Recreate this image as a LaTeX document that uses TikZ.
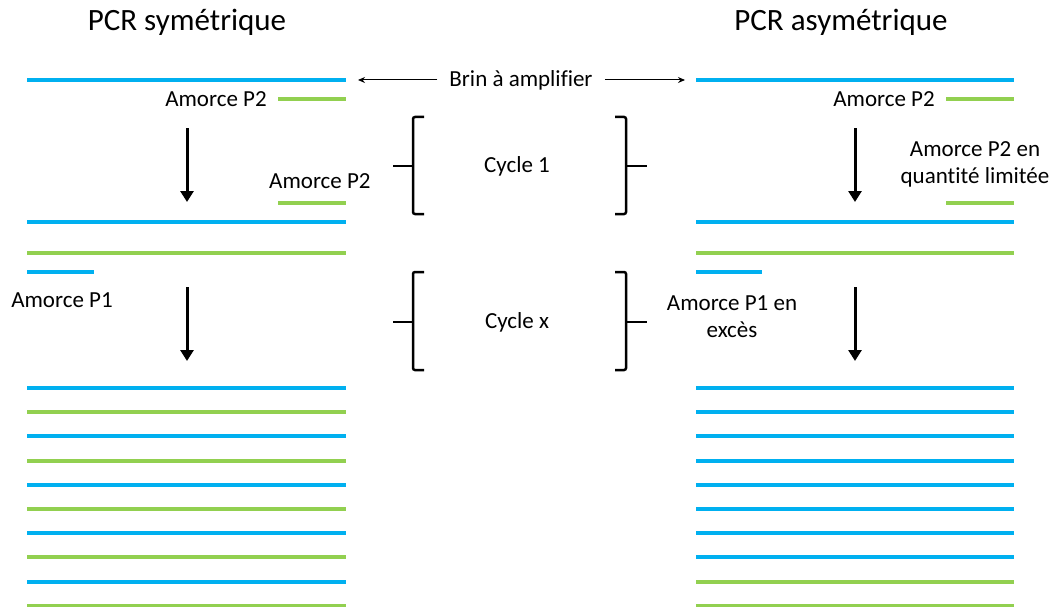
\documentclass[tikz,border=0pt]{standalone}
\usepackage{fontspec}
\setmainfont{Carlito}[Ligatures=NoCommon]
\usetikzlibrary{arrows.meta}
\definecolor{sblue}{HTML}{00B0F0}
\definecolor{sgreen}{HTML}{92D050}
\tikzset{
  bstrand/.style={draw=sblue,line width=4pt},
  gstrand/.style={draw=sgreen,line width=4pt},
  lbl/.style={font=\fontsize{23}{27}\selectfont,inner sep=0pt},
  ttl/.style={font=\fontsize{31}{36}\selectfont,inner sep=0pt},
  bigarrow/.style={line width=3pt,-{Triangle[width=13pt,length=11pt]}},
  thinarrow/.style={line width=1pt,-{Stealth[width=6pt,length=7pt]}},
  brk/.style={line width=2.5pt,rounded corners=2pt},
}
\begin{document}
\begin{tikzpicture}[x=1pt,y=-1pt]
\useasboundingbox (0,0) rectangle (1059,607);
% titles
\node[ttl] (t1) at (187,22) {PCR symétrique};
\node[ttl] (t2) at (841,22) {PCR asymétrique};
% ---------- left ----------
\draw[bstrand] (27,80) -- (346,80);
\draw[gstrand] (278,99) -- (346,99);
\node[lbl] (lp2a) at (216,99) {Amorce P2};
\draw[bigarrow] (187,128) -- (187,202);
\node[lbl,anchor=west] (lp2b) at (269,181) {Amorce P2};
\draw[gstrand] (278,203) -- (346,203);
\draw[bstrand] (27,222) -- (346,222);
\draw[gstrand] (27,253) -- (346,253);
\draw[bstrand] (27,272) -- (94,272);
\node[lbl] (lp1) at (62,300) {Amorce P1};
\draw[bigarrow] (187,287) -- (187,361);
\foreach \i in {0,2,4,6,8}{
  \draw[bstrand] (27,{388+24.2*\i}) -- (346,{388+24.2*\i});
}
\foreach \i in {1,3,5,7,9}{
  \draw[gstrand] (27,{388+24.2*\i}) -- (346,{388+24.2*\i});
}
% ---------- right ----------
\draw[bstrand] (696,80) -- (1014,80);
\draw[gstrand] (946,99) -- (1014,99);
\node[lbl] (rp2a) at (884,99) {Amorce P2};
\draw[bigarrow] (855,128) -- (855,202);
\node[lbl,align=center] (rp2b) at (975,164) {Amorce P2 en\\quantité limitée};
\draw[gstrand] (946,203) -- (1014,203);
\draw[bstrand] (696,222) -- (1014,222);
\draw[gstrand] (696,253) -- (1014,253);
\draw[bstrand] (696,272) -- (762,272);
\node[lbl,align=center] (rp1) at (732,317) {Amorce P1 en\\excès};
\draw[bigarrow] (855,287) -- (855,361);
\foreach \i in {0,...,7}{
  \draw[bstrand] (696,{388+24.2*\i}) -- (1014,{388+24.2*\i});
}
\foreach \i in {8,9}{
  \draw[gstrand] (696,{388+24.2*\i}) -- (1014,{388+24.2*\i});
}
% ---------- middle ----------
\node[lbl] (brin) at (521,80) {Brin à amplifier};
\coordinate (bl) at (358,80);
\coordinate (br) at (685,80);
\draw[thinarrow] ([xshift=-12pt]brin.west) -- (bl);
\draw[thinarrow] ([xshift=12pt]brin.east) -- (br);
\node[lbl] (c1) at (517,166) {Cycle 1};
\node[lbl] (cx) at (517,322) {Cycle x};
% brackets cycle 1
\draw[brk] (424,117) -- (413,117) -- (413,214) -- (424,214);
\draw[line width=2.5pt] (393,166) -- (413,166);
\draw[brk] (615,117) -- (626,117) -- (626,214) -- (615,214);
\draw[line width=2.5pt] (626,166) -- (647,166);
% brackets cycle x
\draw[brk] (424,272) -- (413,272) -- (413,370) -- (424,370);
\draw[line width=2.5pt] (393,322) -- (413,322);
\draw[brk] (615,272) -- (626,272) -- (626,370) -- (615,370);
\draw[line width=2.5pt] (626,322) -- (647,322);
\end{tikzpicture}
\end{document}
